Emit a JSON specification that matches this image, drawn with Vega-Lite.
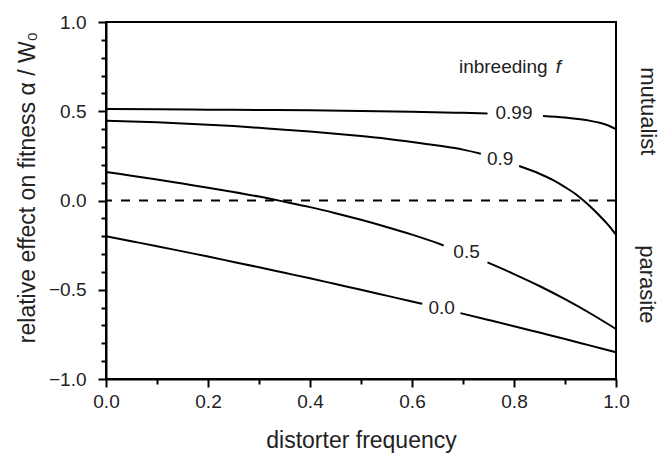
{
  "$schema": "https://vega.github.io/schema/vega-lite/v6.json",
  "width": 510,
  "height": 357,
  "autosize": {"type": "none"},
  "padding": {"left": 106, "top": 22, "right": 46, "bottom": 76},
  "background": "white",
  "config": {
    "font": "Liberation Sans",
    "view": {"stroke": "black", "strokeWidth": 2},
    "axis": {
      "domainColor": "black",
      "domainWidth": 2,
      "tickColor": "black",
      "tickWidth": 2,
      "grid": false,
      "labelFont": "Liberation Sans",
      "labelFontSize": 19,
      "labelColor": "#222",
      "titleFont": "Liberation Sans",
      "titleFontSize": 23,
      "titleFontWeight": "normal",
      "titleColor": "#222",
      "labelOverlap": false,
      "labelFlush": false
    }
  },
  "datasets": {
    "curves": [
      {"s": "0.0a", "x": 0, "y": -0.2},
      {"s": "0.0a", "x": 0.05, "y": -0.228},
      {"s": "0.0a", "x": 0.1, "y": -0.256},
      {"s": "0.0a", "x": 0.15, "y": -0.285},
      {"s": "0.0a", "x": 0.2, "y": -0.314},
      {"s": "0.0a", "x": 0.25, "y": -0.344},
      {"s": "0.0a", "x": 0.3, "y": -0.374},
      {"s": "0.0a", "x": 0.35, "y": -0.405},
      {"s": "0.0a", "x": 0.4, "y": -0.436},
      {"s": "0.0a", "x": 0.45, "y": -0.468},
      {"s": "0.0a", "x": 0.5, "y": -0.5},
      {"s": "0.0a", "x": 0.55, "y": -0.533},
      {"s": "0.0a", "x": 0.6, "y": -0.566},
      {"s": "0.0a", "x": 0.62, "y": -0.579},
      {"s": "0.0b", "x": 0.695, "y": -0.631},
      {"s": "0.0b", "x": 0.75, "y": -0.669},
      {"s": "0.0b", "x": 0.8, "y": -0.704},
      {"s": "0.0b", "x": 0.85, "y": -0.74},
      {"s": "0.0b", "x": 0.9, "y": -0.776},
      {"s": "0.0b", "x": 0.95, "y": -0.813},
      {"s": "0.0b", "x": 1.0, "y": -0.85},
      {"s": "0.5a", "x": 0, "y": 0.16},
      {"s": "0.5a", "x": 0.05, "y": 0.139},
      {"s": "0.5a", "x": 0.1, "y": 0.118},
      {"s": "0.5a", "x": 0.15, "y": 0.095},
      {"s": "0.5a", "x": 0.2, "y": 0.072},
      {"s": "0.5a", "x": 0.25, "y": 0.048},
      {"s": "0.5a", "x": 0.3, "y": 0.022},
      {"s": "0.5a", "x": 0.35, "y": -0.007},
      {"s": "0.5a", "x": 0.4, "y": -0.037},
      {"s": "0.5a", "x": 0.45, "y": -0.071},
      {"s": "0.5a", "x": 0.5, "y": -0.108},
      {"s": "0.5a", "x": 0.55, "y": -0.148},
      {"s": "0.5a", "x": 0.6, "y": -0.191},
      {"s": "0.5a", "x": 0.65, "y": -0.239},
      {"s": "0.5a", "x": 0.662, "y": -0.252},
      {"s": "0.5b", "x": 0.748, "y": -0.347},
      {"s": "0.5b", "x": 0.8, "y": -0.412},
      {"s": "0.5b", "x": 0.85, "y": -0.479},
      {"s": "0.5b", "x": 0.9, "y": -0.553},
      {"s": "0.5b", "x": 0.95, "y": -0.633},
      {"s": "0.5b", "x": 1.0, "y": -0.72},
      {"s": "0.9a", "x": 0, "y": 0.447},
      {"s": "0.9a", "x": 0.05, "y": 0.443},
      {"s": "0.9a", "x": 0.1, "y": 0.438},
      {"s": "0.9a", "x": 0.15, "y": 0.432},
      {"s": "0.9a", "x": 0.2, "y": 0.425},
      {"s": "0.9a", "x": 0.25, "y": 0.417},
      {"s": "0.9a", "x": 0.3, "y": 0.407},
      {"s": "0.9a", "x": 0.35, "y": 0.397},
      {"s": "0.9a", "x": 0.4, "y": 0.386},
      {"s": "0.9a", "x": 0.45, "y": 0.374},
      {"s": "0.9a", "x": 0.5, "y": 0.361},
      {"s": "0.9a", "x": 0.55, "y": 0.346},
      {"s": "0.9a", "x": 0.6, "y": 0.328},
      {"s": "0.9a", "x": 0.65, "y": 0.308},
      {"s": "0.9a", "x": 0.7, "y": 0.285},
      {"s": "0.9a", "x": 0.735, "y": 0.262},
      {"s": "0.9b", "x": 0.81, "y": 0.193},
      {"s": "0.9b", "x": 0.85, "y": 0.15},
      {"s": "0.9b", "x": 0.875, "y": 0.117},
      {"s": "0.9b", "x": 0.9, "y": 0.075},
      {"s": "0.9b", "x": 0.925, "y": 0.027},
      {"s": "0.9b", "x": 0.95, "y": -0.035},
      {"s": "0.9b", "x": 0.965, "y": -0.077},
      {"s": "0.9b", "x": 0.98, "y": -0.122},
      {"s": "0.9b", "x": 0.99, "y": -0.155},
      {"s": "0.9b", "x": 1.0, "y": -0.193},
      {"s": "0.99a", "x": 0, "y": 0.512},
      {"s": "0.99a", "x": 0.1, "y": 0.511},
      {"s": "0.99a", "x": 0.2, "y": 0.509},
      {"s": "0.99a", "x": 0.3, "y": 0.507},
      {"s": "0.99a", "x": 0.4, "y": 0.505},
      {"s": "0.99a", "x": 0.5, "y": 0.502},
      {"s": "0.99a", "x": 0.6, "y": 0.497},
      {"s": "0.99a", "x": 0.7, "y": 0.491},
      {"s": "0.99a", "x": 0.748, "y": 0.488},
      {"s": "0.99b", "x": 0.857, "y": 0.474},
      {"s": "0.99b", "x": 0.9, "y": 0.465},
      {"s": "0.99b", "x": 0.93, "y": 0.455},
      {"s": "0.99b", "x": 0.95, "y": 0.446},
      {"s": "0.99b", "x": 0.97, "y": 0.434},
      {"s": "0.99b", "x": 0.985, "y": 0.42},
      {"s": "0.99b", "x": 1.0, "y": 0.4}
    ],
    "zero": [{"y": 0}],
    "labels": [
      {"label": "0.99", "x": 0.80, "y": 0.49},
      {"label": "0.9", "x": 0.773, "y": 0.232},
      {"label": "0.5", "x": 0.707, "y": -0.29},
      {"label": "0.0", "x": 0.658, "y": -0.6}
    ],
    "side": [
      {"label": "mutualist", "x": 1.063, "y": 0.5},
      {"label": "parasite", "x": 1.061, "y": -0.47}
    ]
  },
  "layer": [
    {
      "data": {"name": "curves"},
      "mark": {"type": "line", "color": "black", "strokeWidth": 2, "interpolate": "monotone"},
      "encoding": {
        "x": {
          "field": "x", "type": "quantitative",
          "scale": {"domain": [0, 1], "nice": false, "zero": false},
          "axis": {
            "title": "distorter frequency",
            "values": [0, 0.1, 0.2, 0.3, 0.4, 0.5, 0.6, 0.7, 0.8, 0.9, 1.0],
            "tickCount": 30,
            "labelExpr": "abs(datum.value*5 - round(datum.value*5)) < 0.001 ? format(datum.value, '.1f') : ''",
            "tickSize": {"condition": {"test": "abs(datum.value*5 - round(datum.value*5)) < 0.001", "value": 8}, "value": 5},
            "labelPadding": 5,
            "titlePadding": 18
          }
        },
        "y": {
          "field": "y", "type": "quantitative",
          "scale": {"domain": [-1, 1], "nice": false, "zero": false},
          "axis": {
            "title": "relative effect on fitness α / W₀",
            "values": [-1, -0.9, -0.8, -0.7, -0.6, -0.5, -0.4, -0.3, -0.2, -0.1, 0, 0.1, 0.2, 0.3, 0.4, 0.5, 0.6, 0.7, 0.8, 0.9, 1.0],
            "tickCount": 50,
            "labelExpr": "abs(datum.value*2 - round(datum.value*2)) < 0.001 ? format(datum.value, '.1f') : ''",
            "tickSize": {"condition": {"test": "abs(datum.value*2 - round(datum.value*2)) < 0.001", "value": 8}, "value": 5},
            "labelPadding": 12,
            "titleY": 165,
            "titleX": -72,
            "titleBaseline": "alphabetic"
          }
        },
        "detail": {"field": "s"}
      }
    },
    {
      "data": {"name": "zero"},
      "mark": {"type": "rule", "color": "black", "strokeWidth": 2, "strokeDash": [9, 9]},
      "encoding": {"y": {"field": "y", "type": "quantitative"}}
    },
    {
      "data": {"name": "labels"},
      "mark": {"type": "text", "fontSize": 19, "color": "#222", "align": "center", "baseline": "middle", "font": "Liberation Sans"},
      "encoding": {
        "x": {"field": "x", "type": "quantitative"},
        "y": {"field": "y", "type": "quantitative"},
        "text": {"field": "label"}
      }
    },
    {
      "data": {"values": [{"label": "inbreeding", "x": 0.692, "y": 0.748}]},
      "mark": {"type": "text", "fontSize": 19, "color": "#222", "align": "left", "baseline": "middle", "font": "Liberation Sans"},
      "encoding": {
        "x": {"field": "x", "type": "quantitative"},
        "y": {"field": "y", "type": "quantitative"},
        "text": {"field": "label"}
      }
    },
    {
      "data": {"values": [{"label": "f", "x": 0.882, "y": 0.748}]},
      "mark": {"type": "text", "fontSize": 19, "fontStyle": "italic", "color": "#222", "align": "left", "baseline": "middle", "font": "Liberation Sans"},
      "encoding": {
        "x": {"field": "x", "type": "quantitative"},
        "y": {"field": "y", "type": "quantitative"},
        "text": {"field": "label"}
      }
    },
    {
      "data": {"name": "side"},
      "mark": {"type": "text", "fontSize": 22, "angle": 90, "color": "#222", "align": "center", "baseline": "middle", "font": "Liberation Sans"},
      "encoding": {
        "x": {"field": "x", "type": "quantitative"},
        "y": {"field": "y", "type": "quantitative"},
        "text": {"field": "label"}
      }
    }
  ]
}
